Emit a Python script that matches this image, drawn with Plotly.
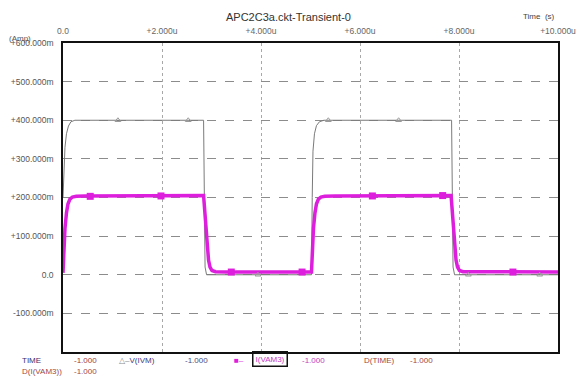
import plotly.graph_objects as go

# ---- data (time in microseconds, values in A) ----
t_vivm = [0.0, 0.02, 0.04, 0.07, 0.11, 0.16, 0.24, 2.84, 2.85, 2.87, 2.90, 5.02, 5.035, 5.05, 5.08, 5.12, 5.18, 5.27, 7.85, 7.86, 7.88, 7.91, 10.0]
v_ivm = [0.20, 0.28, 0.33, 0.365, 0.385, 0.396, 0.400, 0.400, 0.15, 0.02, 0.0, 0.0, 0.20, 0.32, 0.365, 0.386, 0.396, 0.400, 0.400, 0.15, 0.02, 0.0, 0.0]

t_ivam3 = [0.0, 0.02, 0.04, 0.07, 0.10, 0.14, 0.19, 0.27, 0.45, 2.84, 2.86, 2.88, 2.91, 2.94, 2.97, 3.01, 3.08, 3.3, 5.02, 5.04, 5.06, 5.09, 5.12, 5.16, 5.21, 5.29, 5.5, 7.84, 7.86, 7.88, 7.91, 7.94, 7.97, 8.01, 8.08, 10.0]
i_vam3 = [0.005, 0.07, 0.12, 0.16, 0.183, 0.196, 0.201, 0.203, 0.204, 0.205, 0.17, 0.12, 0.07, 0.038, 0.02, 0.011, 0.008, 0.007, 0.007, 0.07, 0.12, 0.16, 0.183, 0.196, 0.201, 0.203, 0.204, 0.205, 0.17, 0.12, 0.07, 0.038, 0.02, 0.011, 0.008, 0.007]

t_mark_v = [1.11, 2.53, 3.94, 5.36, 6.78, 8.19, 9.63]
v_mark_v = [0.400, 0.400, 0.0, 0.400, 0.400, 0.0, 0.0]

t_mark_i = [0.55, 1.98, 3.40, 4.83, 6.25, 7.67, 9.09]
i_mark_i = [0.203, 0.204, 0.007, 0.007, 0.204, 0.205, 0.007]

x_ticks = [0, 2, 4, 6, 8, 10]
x_tick_labels = ["0.0", "+2.000u", "+4.000u", "+6.000u", "+8.000u", "+10.000u"]
y_ticks = [-0.1, 0.0, 0.1, 0.2, 0.3, 0.4, 0.5, 0.6]
y_tick_labels = ["-100.000m", "0.0", "+100.000m", "+200.000m", "+300.000m", "+400.000m", "+500.000m", "+600.000m"]

title_text = "APC2C3a.ckt-Transient-0"

GRAY = "#7a7a7a"
MAG = "#dd1fdd"
FONT = "Arial, Liberation Sans, sans-serif"

W, H = 577, 376
L, R, T, B = 63, 558, 43, 352

def px(x):
    return (x - L) / (R - L)

def py(y):
    return (B - y) / (B - T)

fig = go.Figure()
fig.add_trace(go.Scatter(x=t_vivm, y=v_ivm, mode="lines", line=dict(color=GRAY, width=1), showlegend=False))
fig.add_trace(go.Scatter(x=t_ivam3, y=i_vam3, mode="lines", line=dict(color=MAG, width=3.5), showlegend=False))
fig.add_trace(go.Scatter(x=t_mark_v, y=v_mark_v, mode="markers",
                         marker=dict(symbol="triangle-up-open", size=5, color="#9a9a9a", line=dict(width=1)), showlegend=False))
fig.add_trace(go.Scatter(x=t_mark_i, y=i_mark_i, mode="markers",
                         marker=dict(symbol="square", size=7, color=MAG), showlegend=False))

ann = []
def add(text, x, y, color, size=8, xanchor="left", **kw):
    ann.append(dict(text=text, x=px(x), y=py(y), xref="paper", yref="paper", showarrow=False,
                    xanchor=xanchor, yanchor="middle", font=dict(family=FONT, size=size, color=color), **kw))

add(title_text, 288, 17, "#333333", size=11, xanchor="center")
add("Time  (s)", 539, 16, "#444444", size=8, xanchor="center")
add("(Amp)", 7, 38, "#555555", size=8)

# bottom readout rows
add("TIME", 20, 360, "#3b2f6e")
add("-1.000", 72, 360, "#a03c3c")
add('<span style="color:#8a8a8a">\u25b3\u2013</span>V(IVM)', 117, 360, "#3a3a86")
add("-1.000", 183, 360, "#4a4a80")
add("\u25a0\u2013", 232, 360, MAG)
add("I(VAM3)", 270, 359, "#c23ac2", xanchor="center", bordercolor="#111111", borderwidth=1.5, borderpad=2)
add("-1.000", 300, 360, "#c040c0")
add("D(TIME)", 362, 360, "#a04848")
add("-1.000", 408, 360, "#a04848")
add("D(I(VAM3))", 20, 371, "#a04848")
add("-1.000", 72, 371, "#a04848")

fig.update_layout(
    width=W, height=H,
    margin=dict(l=L, r=W - R, t=T, b=H - B, autoexpand=False),
    paper_bgcolor="white", plot_bgcolor="white",
    font=dict(family=FONT, size=8.5, color="#555555"),
    annotations=ann,
    showlegend=False,
)
fig.update_xaxes(range=[0, 10], side="top", tickvals=x_ticks, ticktext=x_tick_labels,
                 showgrid=True, gridcolor="#a8a8a8", griddash="dot", gridwidth=1,
                 showline=True, linecolor="#111111", linewidth=1.5, mirror=True,
                 zeroline=False, ticks="", ticklabelstandoff=4, automargin=False,
                 tickfont=dict(family=FONT, size=8.5, color="#666666"))
fig.update_yaxes(range=[-0.2, 0.6], tickvals=y_ticks, ticktext=y_tick_labels,
                 showgrid=True, gridcolor="#8c8c8c", griddash="dash", gridwidth=1,
                 showline=True, linecolor="#111111", linewidth=1.5, mirror=True,
                 zeroline=False, ticks="", ticklabelstandoff=6, automargin=False,
                 tickfont=dict(family=FONT, size=8.5, color="#555555"))

fig.write_html("out.html", config={"displayModeBar": False},
               post_script="document.body.style.margin='0';document.body.style.overflow='hidden';")
